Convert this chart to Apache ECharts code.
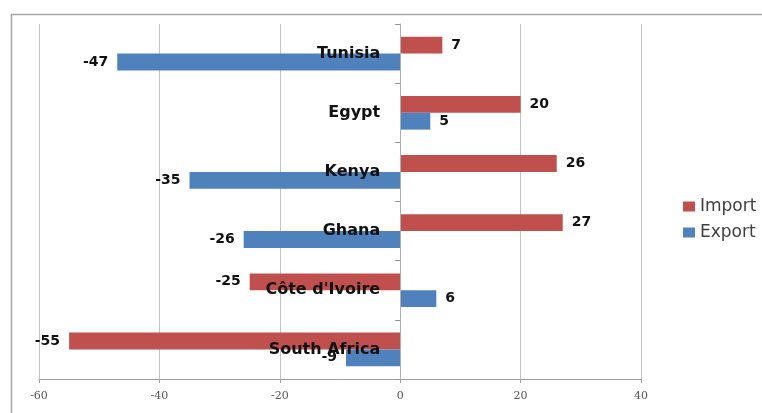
<!DOCTYPE html>
<html>
<head>
<meta charset="utf-8">
<script src="https://cdn.jsdelivr.net/npm/echarts@6/dist/echarts.min.js"></script>
<style>
  html, body { margin: 0; padding: 0; background: #fff; }
  #chart { width: 762px; height: 413px; }
</style>
</head>
<body>
<div id="chart"></div>
<script>
// Trade balance by country
const countries = ['Tunisia', 'Egypt', 'Kenya', 'Ghana', "Côte d'Ivoire", 'South Africa'];
const importValues = [7, 20, 26, 27, -25, -55];
const exportValues = [-47, 5, -35, -26, 6, -9];
const xTicks = { min: -60, max: 40, step: 20 };

const gridBox = { left: 39, right: 121, top: 24, bottom: 34 };
const chartWidth = 762;
// The category axis sits on the zero line of the value axis
const plotWidth = chartWidth - gridBox.left - gridBox.right;
const zeroOffset = -plotWidth * (0 - xTicks.min) / (xTicks.max - xTicks.min);

// Put each value label on the outer end of its bar
function withLabels(values) {
  return values.map(v => ({ value: v, label: { position: v < 0 ? 'left' : 'right' } }));
}

const valueLabel = {
  show: true,
  distance: 9,
  fontFamily: 'DejaVu Sans',
  fontWeight: 'bold',
  fontSize: 14,
  color: '#111'
};

const chart = echarts.init(document.getElementById('chart'), null, { renderer: 'canvas' });
chart.setOption({
  animation: false,
  backgroundColor: '#ffffff',
  graphic: [{
    type: 'rect',
    left: 9, top: 12,
    shape: { width: 820, height: 460 },
    style: { fill: 'none', stroke: '#a6a6a6', lineWidth: 1.5 },
    silent: true
  }],
  grid: Object.assign({ containLabel: false, outerBoundsMode: 'none' }, gridBox),
  legend: {
    orient: 'vertical',
    left: 678,
    top: 193,
    itemWidth: 12,
    itemHeight: 10,
    itemGap: 9,
    icon: 'rect',
    textStyle: { fontFamily: 'DejaVu Sans', fontSize: 17, color: '#404040' },
    data: ['Import', 'Export']
  },
  xAxis: {
    type: 'value',
    min: xTicks.min,
    max: xTicks.max,
    interval: xTicks.step,
    axisLine: { show: true, onZero: false, lineStyle: { color: '#a0a0a0', width: 1 } },
    axisTick: { show: true, length: 4, lineStyle: { color: '#a0a0a0' } },
    axisLabel: { color: '#555', fontFamily: 'DejaVu Serif', fontSize: 11, margin: 12 },
    splitLine: { show: true, lineStyle: { color: '#c4c4c4', width: 1 } }
  },
  yAxis: {
    type: 'category',
    data: countries,
    inverse: true,
    position: 'left',
    offset: zeroOffset,
    z: 10,
    axisLine: { show: true, onZero: false, lineStyle: { color: '#b0b0b0' } },
    axisTick: { show: true, length: 5, lineStyle: { color: '#909090' } },
    axisLabel: {
      margin: 20,
      fontFamily: 'DejaVu Sans',
      fontWeight: 'bold',
      fontSize: 16,
      color: '#111'
    },
    splitLine: { show: false }
  },
  series: [
    {
      name: 'Import',
      type: 'bar',
      data: withLabels(importValues),
      barGap: '0%',
      barCategoryGap: '43%',
      itemStyle: { color: '#C0504D' },
      label: valueLabel
    },
    {
      name: 'Export',
      type: 'bar',
      data: withLabels(exportValues),
      barGap: '0%',
      barCategoryGap: '43%',
      itemStyle: { color: '#4F81BD' },
      label: valueLabel
    }
  ]
});
</script>
</body>
</html>
